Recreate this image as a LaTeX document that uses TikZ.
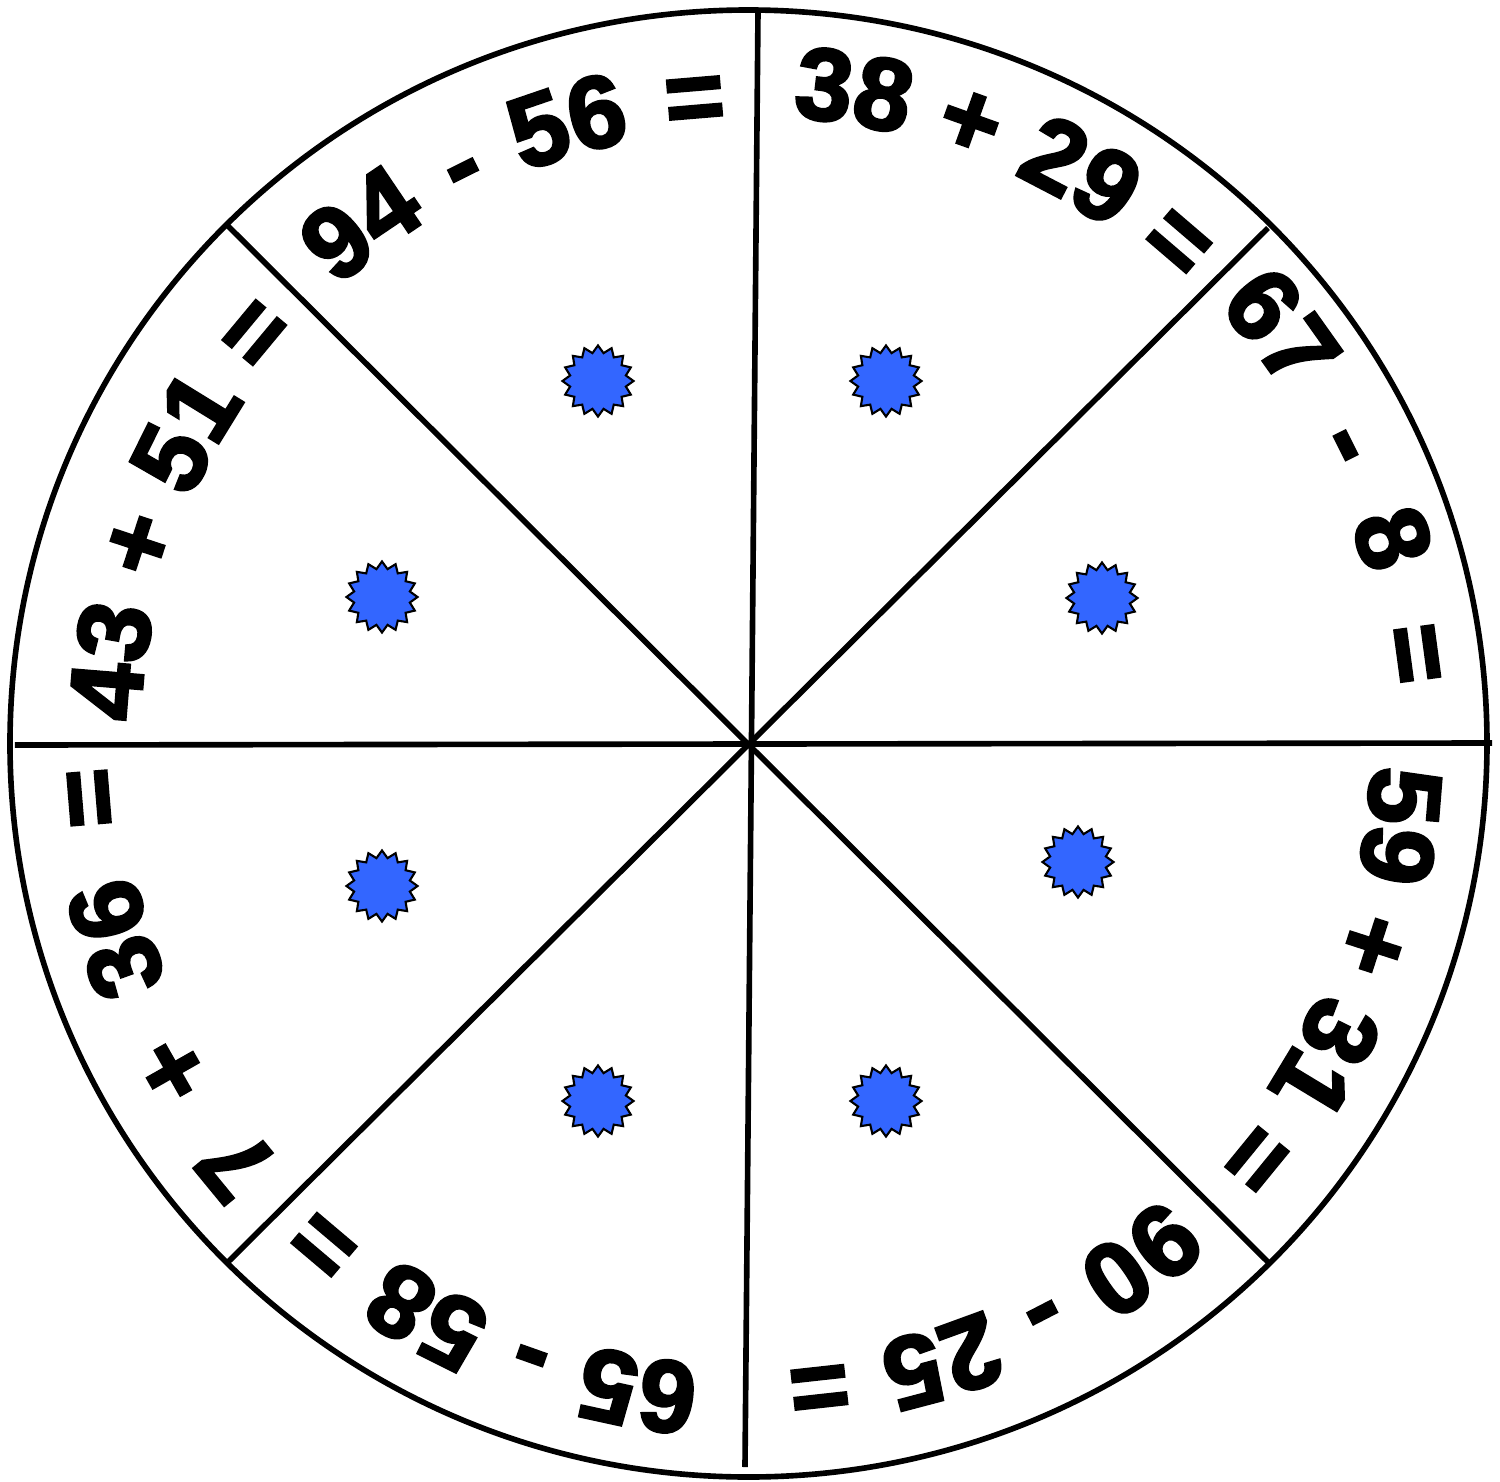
\documentclass[tikz,border=0pt]{standalone}
\usepackage{fontspec}
\usepackage{xcolor}
\newfontfamily\eqfont{Liberation Sans Bold}[FakeBold=3]
\usetikzlibrary{shapes.geometric,decorations.text}
\definecolor{starblue}{RGB}{51,102,255}
\newcommand\eqsize{\eqfont\fontsize{29}{29}\selectfont}

\begin{document}
\begin{tikzpicture}[x=0.01cm, y=0.01cm, line width=1.6pt,
  burst/.style={star, star points=16, star point ratio=1.25, minimum size=7.1mm,
    inner sep=0pt, draw=black, line width=0.6pt, fill=starblue},
  eqtext/.style={decorate, decoration={text along path,
    text align=fit to path stretching spaces, text={|\eqsize|#1}}}]
\useasboundingbox (-748.5,-737.5) rectangle (751.5,743.5);
% rim and spokes
\coordinate (O) at (0,0);
\draw (O) ellipse[x radius=738.5, y radius=733.5];
\coordinate (vt) at (9.5,731.5);   \coordinate (vb) at (-3.5,-723.5);
\coordinate (hl) at (-733.5,-1.5); \coordinate (hr) at (743.5,0.5);
\coordinate (dtl) at (-520.5,517.5); \coordinate (dbr) at (519.5,-518.5);
\coordinate (dtr) at (519.5,515.5);  \coordinate (dbl) at (-520.5,-518.5);
\draw (vt)--(vb); \draw (hl)--(hr); \draw (dtl)--(dbr); \draw (dtr)--(dbl);
% stars
\node[burst] (s1) at (-150.5,362.5) {};
\node[burst] (s2) at (137.5,362.5) {};
\node[burst] (s3) at (353.5,145.5) {};
\node[burst] (s4) at (329.5,-118.5) {};
\node[burst] (s5) at (137.5,-357.5) {};
\node[burst] (s6) at (-150.5,-357.5) {};
\node[burst] (s7) at (-366.5,-142.5) {};
\node[burst] (s8) at (-366.5,146.5) {};
% sums along the rim
\path[eqtext={94 - 56 =}] (132:614) arc[start angle=132, end angle=92, radius=614];
\path[eqtext={38 + 29 =}] (86:628) arc[start angle=86, end angle=47, radius=628];
\path[eqtext={67 - 8 =}] (43:641) arc[start angle=43, end angle=5, radius=641];
\path[eqtext={59 + 31 =}] (-2:623) arc[start angle=-2, end angle=-42, radius=623];
\path[eqtext={90 - 25 =}] (-47.5:614) arc[start angle=-47.5, end angle=-86.5, radius=614];
\path[eqtext={65 - 58 =}] (-94.5:623) arc[start angle=-94.5, end angle=-133, radius=623];
\path[eqtext={7 + 36 =}] (222:628) arc[start angle=222, end angle=182, radius=628];
\path[eqtext={43 + 51 =}] (178:609) arc[start angle=178, end angle=137.5, radius=609];
\end{tikzpicture}
\end{document}
